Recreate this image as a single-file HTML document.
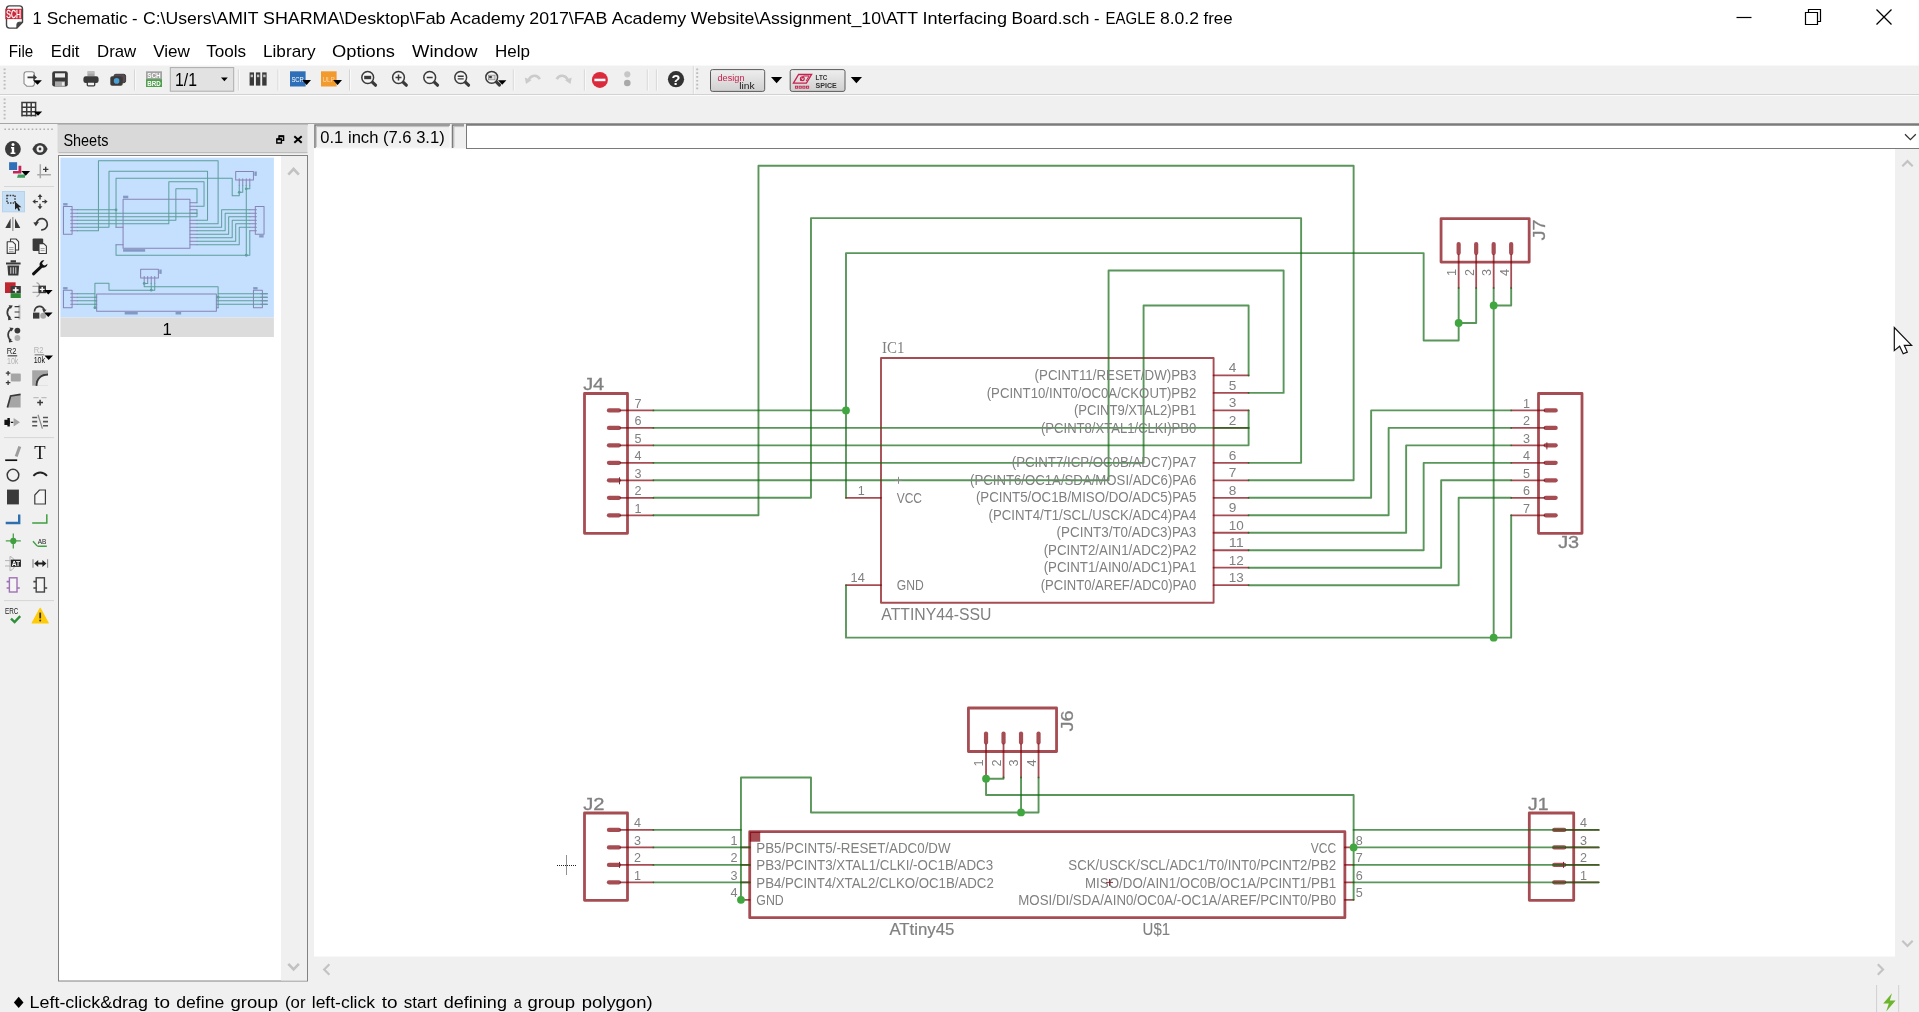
<!DOCTYPE html>
<html><head><meta charset="utf-8"><title>1 Schematic - EAGLE 8.0.2 free</title>
<style>
html,body{margin:0;padding:0;background:#f0f0f0;overflow:hidden}
svg{display:block;font-family:"Liberation Sans",sans-serif;will-change:transform}
text{font-family:"Liberation Sans",sans-serif}
</style></head><body>
<svg width="1919" height="1012" viewBox="0 0 1919 1012" shape-rendering="auto">
<rect x="0" y="0" width="1919" height="1012" fill="#f0f0f0"/>
<rect x="0" y="0" width="1919" height="65.5" fill="#fff"/>
<rect x="314" y="148.5" width="1581" height="808" fill="#fff"/>
<g><path d="M9.500 5.900h10a3 3 0 0 1 3 3v13.300l-5.600 5.900h-7.400a3 3 0 0 1-3-3v-16.200a3 3 0 0 1 3-3z" fill="#fff" stroke="#444" stroke-width="1.400"/><path d="M22.500 22.200h-3.400a2.200 2.200 0 0 0-2.200 2.200v3.700z" fill="#444" stroke="#444" stroke-width="1" stroke-linejoin="round"/><rect x="5.300" y="8.800" width="16.700" height="10.300" fill="#c9283b"/><text x="13.650" y="17.800" font-size="10.600" fill="#fff" text-anchor="middle" textLength="14.600" lengthAdjust="spacingAndGlyphs" stroke="#fff" stroke-width=".3">SCH</text></g>
<text x="32.5" y="24.3" font-size="16.6" fill="#000">1</text>
<text x="46.75" y="24.3" font-size="16.6" fill="#000" textLength="81.0" lengthAdjust="spacingAndGlyphs">Schematic</text>
<text x="132" y="24.3" font-size="16.6" fill="#000">-</text>
<text x="143" y="24.3" font-size="16.6" fill="#000" textLength="115.5" lengthAdjust="spacingAndGlyphs">C:\Users\AMIT</text>
<text x="263" y="24.3" font-size="16.6" fill="#000" textLength="182.5" lengthAdjust="spacingAndGlyphs">SHARMA\Desktop\Fab</text>
<text x="450" y="24.3" font-size="16.6" fill="#000" textLength="74.7" lengthAdjust="spacingAndGlyphs">Academy</text>
<text x="529.25" y="24.3" font-size="16.6" fill="#000" textLength="78.0" lengthAdjust="spacingAndGlyphs">2017\FAB</text>
<text x="611.75" y="24.3" font-size="16.6" fill="#000" textLength="74.5" lengthAdjust="spacingAndGlyphs">Academy</text>
<text x="690.75" y="24.3" font-size="16.6" fill="#000" textLength="227.2" lengthAdjust="spacingAndGlyphs">Website\Assignment_10\ATT</text>
<text x="922.5" y="24.3" font-size="16.6" fill="#000" textLength="84.5" lengthAdjust="spacingAndGlyphs">Interfacing</text>
<text x="1011.5" y="24.3" font-size="16.6" fill="#000" textLength="78.0" lengthAdjust="spacingAndGlyphs">Board.sch</text>
<text x="1094" y="24.3" font-size="16.6" fill="#000">-</text>
<text x="1105.5" y="24.3" font-size="16.6" fill="#000" textLength="50.0" lengthAdjust="spacingAndGlyphs">EAGLE</text>
<text x="1160" y="24.3" font-size="16.6" fill="#000" textLength="39" lengthAdjust="spacingAndGlyphs">8.0.2</text>
<text x="1203.5" y="24.3" font-size="16.6" fill="#000" textLength="29.0" lengthAdjust="spacingAndGlyphs">free</text>
<path d="M1736.5 17.5h15" stroke="#000" stroke-width="1.2" fill="none"/>
<path d="M1805.5 12.5h12v12h-12zM1808.5 12.5v-3h12v12h-3" stroke="#000" stroke-width="1.2" fill="none"/>
<path d="M1876.5 9.5l15 15M1891.5 9.5l-15 15" stroke="#000" stroke-width="1.3" fill="none"/>
<text x="8.8" y="57.0" font-size="16.6" fill="#000" textLength="24.4" lengthAdjust="spacingAndGlyphs">File</text>
<text x="50.8" y="57.0" font-size="16.6" fill="#000" textLength="28.7" lengthAdjust="spacingAndGlyphs">Edit</text>
<text x="97" y="57.0" font-size="16.6" fill="#000" textLength="39.2" lengthAdjust="spacingAndGlyphs">Draw</text>
<text x="153.2" y="57.0" font-size="16.6" fill="#000" textLength="36.8" lengthAdjust="spacingAndGlyphs">View</text>
<text x="206.2" y="57.0" font-size="16.6" fill="#000" textLength="40.0" lengthAdjust="spacingAndGlyphs">Tools</text>
<text x="263" y="57.0" font-size="16.6" fill="#000" textLength="52.5" lengthAdjust="spacingAndGlyphs">Library</text>
<text x="332" y="57.0" font-size="16.6" fill="#000" textLength="63" lengthAdjust="spacingAndGlyphs">Options</text>
<text x="412" y="57.0" font-size="16.6" fill="#000" textLength="65.5" lengthAdjust="spacingAndGlyphs">Window</text>
<text x="495" y="57.0" font-size="16.6" fill="#000" textLength="35" lengthAdjust="spacingAndGlyphs">Help</text>
<path d="M0 94.5H1919" stroke="#d2d2d2" stroke-width="1"/>
<path d="M0 95.5H1919" stroke="#fbfbfb" stroke-width="1"/>
<path d="M0 123.5H1919" stroke="#a6a6a6" stroke-width="1"/>
<path d="M57.5 124.800H308" stroke="#a4a4a4" stroke-width="1"/>
<path d="M4.6 68.5V91" stroke="#bcbcbc" stroke-width="2" stroke-dasharray="1.700 2.100"/>
<path d="M4.6 98.5V121" stroke="#bcbcbc" stroke-width="2" stroke-dasharray="1.700 2.100"/>
<path d="M26.400 71.800h5.600a2.400 2.400 0 0 1 2.400 2.400v9.600a2.400 2.400 0 0 1-2.400 2.400h-5.200l-2.800-2.600v-9.400a2.400 2.400 0 0 1 2.400-2.400z" fill="#fafafa" stroke="#8a8a8a" stroke-width="1.100"/>
<path d="M27.500 76.500h5.800v-2.200l3.700 3.100l-3.700 3.100v-2.200h-5.800z" fill="#3a3a3a"/>
<path d="M33.1 80.2H41.9L37.5 84.8Z" fill="#000"/>
<rect x="52.200" y="71.300" width="15.600" height="15.200" rx="2.200" fill="#3a3a3a"/>
<rect x="55" y="73.300" width="10" height="4.200" fill="#ececec"/>
<rect x="55" y="81.400" width="10" height="5.100" fill="#a9a9a9"/>
<rect x="61.900" y="82.200" width="2.400" height="3.400" fill="#ececec"/>
<rect x="87.400" y="71.300" width="7.200" height="5" fill="#a6a6a6"/>
<path d="M87.400 72.900h7.200" stroke="#d0d0d0" stroke-width=".8"/>
<rect x="83.400" y="76.300" width="15.200" height="6.800" rx="2.400" fill="#3a3a3a"/>
<rect x="87.300" y="82" width="7.400" height="3.800" rx=".8" fill="#f4f4f4" stroke="#3a3a3a" stroke-width="1.300"/>
<rect x="114" y="74.300" width="11.600" height="8.400" rx="1.800" fill="#5a4a50" stroke="#3a3a3a" stroke-width="1"/>
<rect x="110.300" y="76.200" width="12.400" height="9.600" rx="1.800" fill="#3a3a3a"/>
<circle cx="116.600" cy="80.900" r="2.800" fill="#4a9fd6"/>
<path d="M134.6 69.5V90.5" stroke="#d4d4d4" stroke-width="1"/><path d="M135.6 69.5V90.5" stroke="#fafafa" stroke-width="1"/>
<rect x="146" y="71.3" width="16" height="7.8" fill="#a3a3a3"/>
<rect x="146" y="79.1" width="16" height="7.9" fill="#4f9f4f"/>
<text x="154" y="78" font-size="7.6" font-weight="bold" fill="#fff" text-anchor="middle" textLength="13.4" lengthAdjust="spacingAndGlyphs">SCH</text>
<text x="154" y="85.9" font-size="7.6" font-weight="bold" fill="#fff" text-anchor="middle" textLength="13.4" lengthAdjust="spacingAndGlyphs">BRD</text>
<rect x="170.3" y="67.6" width="63.4" height="23.6" fill="#e2e2e2" stroke="#adadad" stroke-width="1"/>
<text x="175" y="85.8" font-size="18" fill="#000" textLength="22" lengthAdjust="spacingAndGlyphs">1/1</text>
<path d="M221 77.6H227.8L224.4 81.2Z" fill="#000"/>
<path d="M238.4 69.5V90.5" stroke="#d4d4d4" stroke-width="1"/><path d="M239.4 69.5V90.5" stroke="#fafafa" stroke-width="1"/>
<rect x="249.6" y="72.4" width="4.4" height="13.2" fill="#3a3a3a"/>
<rect x="250.6" y="74.6" width="2.4" height="2.6" fill="#bdbdbd"/>
<rect x="255.9" y="72.4" width="4.4" height="13.2" fill="#3a3a3a"/>
<rect x="256.9" y="74.6" width="2.4" height="2.6" fill="#bdbdbd"/>
<rect x="262.2" y="72.4" width="4.4" height="13.2" fill="#3a3a3a"/>
<rect x="263.2" y="74.6" width="2.4" height="2.6" fill="#bdbdbd"/>
<path d="M278 69.5V90.5" stroke="#d4d4d4" stroke-width="1"/><path d="M279 69.5V90.5" stroke="#fafafa" stroke-width="1"/>
<rect x="290" y="71.3" width="15.6" height="15.2" fill="#2e6fb8"/>
<text x="297.6" y="82" font-size="7.6" fill="#fff" text-anchor="middle" textLength="12.4" lengthAdjust="spacingAndGlyphs">SCR</text>
<path d="M302.2 80H311L306.6 85Z" fill="#000"/>
<rect x="321" y="71.3" width="15.6" height="15.2" fill="#f29a2e"/>
<text x="328.6" y="82" font-size="7.6" fill="#fbd9a8" text-anchor="middle" textLength="12.4" lengthAdjust="spacingAndGlyphs">ULP</text>
<path d="M333.2 80H342L337.6 85Z" fill="#000"/>
<path d="M349.5 69.5V90.5" stroke="#d4d4d4" stroke-width="1"/><path d="M350.5 69.5V90.5" stroke="#fafafa" stroke-width="1"/>
<path d="M372.3 82.1L375.5 85.2" stroke="#3a3a3a" stroke-width="3.2" stroke-linecap="round"/><circle cx="367.7" cy="77.5" r="5.9" fill="#f6f6f6" stroke="#3a3a3a" stroke-width="1.5"/>
<rect x="364.2" y="75.8" width="7" height="3.4" fill="#3a3a3a"/>
<path d="M403.1 82.1L406.3 85.2" stroke="#3a3a3a" stroke-width="3.2" stroke-linecap="round"/><circle cx="398.5" cy="77.5" r="5.9" fill="#f6f6f6" stroke="#3a3a3a" stroke-width="1.5"/>
<path d="M395.5 77.5h6M398.5 74.5v6" stroke="#3a3a3a" stroke-width="1.5"/>
<path d="M434.3 82.1L437.5 85.2" stroke="#3a3a3a" stroke-width="3.2" stroke-linecap="round"/><circle cx="429.7" cy="77.5" r="5.9" fill="#f6f6f6" stroke="#3a3a3a" stroke-width="1.5"/>
<path d="M426.7 77.5h6" stroke="#3a3a3a" stroke-width="1.5"/>
<path d="M465.3 82.1L468.5 85.2" stroke="#3a3a3a" stroke-width="3.2" stroke-linecap="round"/><circle cx="460.7" cy="77.5" r="5.9" fill="#f6f6f6" stroke="#3a3a3a" stroke-width="1.5"/>
<path d="M457.7 76.2h6M457.7 78.9h6" stroke="#3a3a3a" stroke-width="1.4"/>
<path d="M496.3 81.89999999999999L499.5 85.0" stroke="#3a3a3a" stroke-width="3.2" stroke-linecap="round"/><circle cx="491.7" cy="77.3" r="5.9" fill="#f6f6f6" stroke="#3a3a3a" stroke-width="1.5"/>
<rect x="488.4" y="75.2" width="6.6" height="4.6" fill="#dcdcdc" stroke="#8a8a8a" stroke-width=".8"/>
<rect x="489.2" y="76" width="2.6" height="2.2" fill="#3a3a3a"/>
<path d="M498 80.2H506.4L502.2 84.8Z" fill="#000"/>
<path d="M513.3 69.5V90.5" stroke="#d4d4d4" stroke-width="1"/><path d="M514.3 69.5V90.5" stroke="#fafafa" stroke-width="1"/>
<path d="M528.800 79.600C531 75.400 536.800 73.800 539.800 79.200" fill="none" stroke="#cbcbcb" stroke-width="2.600"/>
<path d="M524.800 77.600l6.600 2.600l-5.400 3.800z" fill="#cbcbcb"/>
<path d="M567.700 79.600C565.500 75.400 559.700 73.800 556.700 79.200" fill="none" stroke="#cbcbcb" stroke-width="2.600"/>
<path d="M571.700 77.600l-6.600 2.600l5.400 3.800z" fill="#cbcbcb"/>
<path d="M584.4 69.5V90.5" stroke="#d4d4d4" stroke-width="1"/><path d="M585.4 69.5V90.5" stroke="#fafafa" stroke-width="1"/>
<circle cx="599.900" cy="79.900" r="8" fill="#dc2a3d"/>
<rect x="594.400" y="78.700" width="11" height="2.500" fill="#fff"/>
<circle cx="627.3" cy="74.3" r="3.1" fill="#c6c6c6"/>
<circle cx="627.3" cy="83" r="3.3" fill="#a9a9a9"/>
<path d="M647.3 69.5V90.5" stroke="#d4d4d4" stroke-width="1"/><path d="M648.3 69.5V90.5" stroke="#fafafa" stroke-width="1"/>
<path d="M656.4 69.5V90.5" stroke="#d4d4d4" stroke-width="1"/><path d="M657.4 69.5V90.5" stroke="#fafafa" stroke-width="1"/>
<circle cx="676" cy="79.2" r="8.1" fill="#333"/>
<text x="676" y="84.6" font-size="14.5" font-weight="bold" fill="#fff" text-anchor="middle">?</text>
<path d="M693.3 66V94" stroke="#d4d4d4" stroke-width="1"/><path d="M694.3 66V94" stroke="#fafafa" stroke-width="1"/>
<path d="M697.2 68.5V91" stroke="#bcbcbc" stroke-width="2" stroke-dasharray="1.700 2.100"/>
<defs><linearGradient id="bg1" x1="0" y1="0" x2="0" y2="1"><stop offset="0" stop-color="#efefef"/><stop offset="1" stop-color="#cfcfcf"/></linearGradient></defs>
<rect x="710.5" y="69.6" width="54.2" height="21.8" rx="2" fill="url(#bg1)" stroke="#5a5a5a" stroke-width="1"/>
<text x="717.5" y="80.5" font-size="9.6" fill="#c8214e" textLength="27" lengthAdjust="spacingAndGlyphs">design</text>
<text x="739.3" y="88.6" font-size="9.6" fill="#1a1a1a" textLength="15.4" lengthAdjust="spacingAndGlyphs">link</text>
<path d="M771 77H782.2L776.6 83.2Z" fill="#000"/>
<rect x="790.2" y="69.6" width="54.8" height="21.8" rx="2" fill="url(#bg1)" stroke="#5a5a5a" stroke-width="1"/>
<path d="M798.6 74.5h13l-5.2 8.6h-13z" fill="none" stroke="#c8214e" stroke-width="1.3"/>
<path d="M800.5 81l3-5h5.6l-3 5" fill="none" stroke="#c8214e" stroke-width="1"/>
<circle cx="802.3" cy="78.8" r="1.9" fill="none" stroke="#c8214e" stroke-width="1.2"/>
<rect x="795.4" y="86.2" width="2.2" height="2" fill="none" stroke="#c8214e" stroke-width=".9"/>
<rect x="799.1" y="86.2" width="2.2" height="2" fill="none" stroke="#c8214e" stroke-width=".9"/>
<rect x="802.8" y="86.2" width="2.2" height="2" fill="none" stroke="#c8214e" stroke-width=".9"/>
<rect x="806.5" y="86.2" width="2.2" height="2" fill="none" stroke="#c8214e" stroke-width=".9"/>
<text x="815.6" y="80.4" font-size="6.6" font-weight="bold" fill="#333" textLength="11.6" lengthAdjust="spacingAndGlyphs">LTC</text>
<text x="815.6" y="87.8" font-size="6.6" font-weight="bold" fill="#333" textLength="21.2" lengthAdjust="spacingAndGlyphs">SPICE</text>
<path d="M850.8 77H862L856.4 83.2Z" fill="#000"/>
<rect x="21.2" y="101.8" width="15" height="14.4" fill="#f6f6f6"/>
<path d="M21.2 102.6h15.2M21.2 107.3h15.2M21.2 111.7h15.2M21.2 115.6h15.2M22 101.8v14.6M26.7 101.8v14.6M31.2 101.8v14.6M35.6 101.8v14.6" stroke="#3a3a3a" stroke-width="1.5" fill="none"/>
<path d="M33.8 111.6H42.2L38.0 115.8Z" fill="#000"/>
<path d="M4.400 129.300H54" stroke="#b0b0b0" stroke-width="1.600" stroke-dasharray="1.600 2.300"/>
<circle cx="12.900" cy="149" r="7.900" fill="#3a3a3a"/>
<circle cx="13" cy="144.4" r="1.5" fill="#fff"/>
<path d="M11 147h3.2v5.6h1.2v1.4h-4.8v-1.4h1.2v-4.2h-.8z" fill="#fff"/>
<path d="M32.400 149c3-8 12.200-8 15.200 0c-3 8-12.200 8-15.200 0z" fill="#3a3a3a"/>
<circle cx="40" cy="149" r="3.500" fill="#f0f0f0"/>
<circle cx="40" cy="149" r="1.4" fill="#3a3a3a"/>
<rect x="9.1" y="162.2" width="8" height="7.8" fill="#2e6fb8"/>
<path d="M18.500 165.8h2.8v7.8h-8.300v-2.600h5.500z" fill="#c4245a"/>
<path d="M18 174.600h7v3.200h-8z" fill="#3d9e5c"/>
<path d="M21.3 171H30.1L25.700000000000003 175.8Z" fill="#000"/>
<path d="M40.300 164.300V178.300M37.200 174.800H50.900" stroke="#a9a9a9" stroke-width="1.5" fill="none"/>
<path d="M43 169.400h5.400M45.700 166.700v5.400" stroke="#3a3a3a" stroke-width="1.4" fill="none"/>
<path d="M4 186.500H54" stroke="#d6d6d6" stroke-width="1"/>
<rect x="2.500" y="191.500" width="22" height="20.300" fill="#c6dff5" stroke="#b4d4ee" stroke-width="1"/>
<rect x="7" y="195.500" width="8" height="7.400" fill="none" stroke="#3a3a3a" stroke-width="1.500" stroke-dasharray="1.500 1.200"/>
<path d="M15 201.400v8.300l2.100-1.900l1.500 3.200l1.500-.7l-1.500-3.100h2.800z" fill="#222"/>
<path d="M40 194l2.400 3h-1.700v2.500h-1.400v-2.500h-1.700zM40 209.200l2.400-3h-1.700v-2.500h-1.400v2.500h-1.700zM32.400 201.600l3-2.400v1.700h2.500v1.400h-2.500v1.700zM47.600 201.600l-3-2.400v1.700h-2.500v1.400h2.500v1.700z" fill="#3a3a3a"/>
<path d="M12.800 217V231" stroke="#a0a0a0" stroke-width="1.400"/>
<path d="M10.600 218.500v9.600h-5.300zM15 218.500v9.600h5.300z" fill="#3a3a3a"/>
<path d="M36.200 223.500a5.600 5.600 0 1 1 5 6.300" fill="none" stroke="#3a3a3a" stroke-width="1.700"/>
<path d="M33.300 222.400l5.800-.6l-3.200 4.400z" fill="#3a3a3a"/>
<path d="M10.500 239h5.500l2.600 2.600v8.400h-8.100z" fill="#f6f6f6" stroke="#3a3a3a" stroke-width="1.100" stroke-linejoin="round"/>
<path d="M7.200 241.800h5.600l2.600 2.600v9h-8.200z" fill="#f6f6f6" stroke="#3a3a3a" stroke-width="1.100" stroke-linejoin="round"/>
<path d="M9 247.600h4.600M9 249.600h4.600M9 251.600h4.600" stroke="#8a8a8a" stroke-width=".8"/>
<rect x="32.600" y="238.400" width="10.600" height="12.600" rx="1.200" fill="#3a3a3a"/>
<path d="M39 243.600h4.800l2.600 2.600v7.300h-7.400z" fill="#f6f6f6" stroke="#3a3a3a" stroke-width="1.100" stroke-linejoin="round"/>
<path d="M40.600 248.600h4M40.600 250.600h4" stroke="#8a8a8a" stroke-width=".8"/>
<path d="M6 262.600h14.600v2h-14.600zM10.600 260.300h5.400v2h-5.400zM7.400 265.600h11.800l-.8 10h-10.200z" fill="#3a3a3a"/>
<path d="M10.800 267.300v6.400M13.300 267.300v6.400M15.800 267.300v6.400" stroke="#ededed" stroke-width=".900"/>
<path d="M33.500 273.800L42 265.800" stroke="#111" stroke-width="3" stroke-linecap="round"/>
<path d="M47.600 263.800a4.300 4.300 0 0 1-6.600 3.300l-1.400-1.600a4.300 4.300 0 0 1 4.800-5.200l-2.300 2.600l.6 2.200l2.300.5z" fill="#111"/>
<rect x="5" y="282.300" width="10.600" height="10.700" fill="#c0262f"/>
<rect x="10.600" y="286" width="10.200" height="7.200" fill="#3a3a3a"/>
<rect x="10.600" y="293.200" width="10.200" height="4.800" fill="#2f8a36"/>
<path d="M12.800 290h5.800M15.700 287.200v5.600" stroke="#fff" stroke-width="1.600"/>
<path d="M32.500 286.400h6M32.500 292.400h6M36.500 282.600c5 1.200 5 12.600 0 14" stroke="#a9a9a9" stroke-width="1.100" fill="none"/>
<rect x="38.400" y="285.600" width="7.600" height="7.600" fill="#3a3a3a"/>
<path d="M39.800 289.400h4.800M42.200 287v4.800" stroke="#fff" stroke-width="1.400"/>
<path d="M44 290H52.6L48.3 294.4Z" fill="#000"/>
<path d="M10.800 306.600c-4.600 2.600-4.600 8.600-.4 11.400" fill="none" stroke="#3a3a3a" stroke-width="1.700"/>
<path d="M8.600 305.200l4.200.4l-2 3.400zM8 316.600l4.200 2.800l-4 .8z" fill="#3a3a3a"/>
<path d="M19.400 304.800v14.600" stroke="#b4b4b4" stroke-width="2"/>
<path d="M14.600 306.600h4.800M14.600 312h4.800M14.600 317.400h4.800" stroke="#3a3a3a" stroke-width="1.200"/>
<path d="M34.500 311.600a5 5 0 0 1 10-.6" fill="none" stroke="#3a3a3a" stroke-width="1.700"/>
<path d="M42.200 309l4.400.8l-2.800 3z" fill="#3a3a3a"/>
<rect x="33" y="312.600" width="6.400" height="6" fill="#3a3a3a"/>
<circle cx="43.200" cy="315.800" r="3" fill="#a6a6a6"/>
<path d="M44 312.6H52.6L48.3 317Z" fill="#000"/>
<path d="M11.600 329c-4.600 2.600-4.600 8.600-.4 11.400" fill="none" stroke="#3a3a3a" stroke-width="1.700"/>
<path d="M9.400 327.600l4.200.4l-2 3.400zM8.800 339l4.200 2.800l-4 .8z" fill="#3a3a3a"/>
<circle cx="17.400" cy="330.600" r="2.900" fill="#3a3a3a"/>
<circle cx="17.400" cy="338" r="2.900" fill="#b0b0b0"/>
<text x="6.700" y="353.700" font-size="9.400" fill="#222" textLength="9.800" lengthAdjust="spacingAndGlyphs">R2</text>
<path d="M7.600 355.800h9.600" stroke="#555" stroke-width="1.300"/>
<text x="7" y="363.900" font-size="9.400" fill="#b4b4b4" textLength="11.400" lengthAdjust="spacingAndGlyphs">10k</text>
<text x="33.700" y="352.800" font-size="9.400" fill="#b4b4b4" textLength="9.800" lengthAdjust="spacingAndGlyphs">R2</text>
<path d="M34.600 354.800h9.600" stroke="#8a8a8a" stroke-width="1.300"/>
<text x="33.700" y="362.800" font-size="9.400" fill="#111" textLength="11.400" lengthAdjust="spacingAndGlyphs">10k</text>
<path d="M44.4 355.4H53L48.7 360Z" fill="#000"/>
<rect x="10.800" y="373.600" width="10" height="8" rx="1" fill="#a6a6a6"/>
<path d="M5.800 373.200h4.600M8.100 371v4.600M5.800 382.600h4.600M8.100 380.400v4.600" stroke="#3a3a3a" stroke-width="1.300"/>
<rect x="32.200" y="370.300" width="15.800" height="15.400" fill="#a6a6a6"/>
<path d="M36.600 385.700c0-6.600 4.400-11 11.400-11" fill="#efefef" stroke="#3a3a3a" stroke-width="1.700"/>
<path d="M36.600 385.700c0-6.600 4.400-11 11.400-11v11z" fill="#efefef"/>
<path d="M36.600 385.700c0-6.600 4.400-11 11.400-11" fill="none" stroke="#3a3a3a" stroke-width="1.700"/>
<path d="M7.400 407.500l3.200-11.500l10-1.600v13.100z" fill="#a6a6a6"/>
<path d="M7.400 407.500l3.200-11.500l10-1.600" fill="none" stroke="#3a3a3a" stroke-width="1.700"/>
<path d="M33.400 397.600h5.200M41.400 397.600h5.200" stroke="#bdbdbd" stroke-width="1.200"/>
<path d="M37.200 402.600h5.800M40.100 399.800v5.600" stroke="#3a3a3a" stroke-width="1.500"/>
<path d="M5 420.300h3v-1.700h1.200v1.700h0a3.800 3.800 0 0 1 0 4h0v1.700h-1.200v-1.700h-3zM11 422.300h2.400" fill="#111" stroke="#111" stroke-width="1.200"/>
<path d="M13.600 418l6.400 4.300l-6.400 4.300z" fill="#a6a6a6"/>
<path d="M32.200 417.500h5M32.200 421.600h5M32.200 425.800h5M43 417.500h5M43 421.600h5M43 425.800h5" stroke="#555" stroke-width="1.600"/>
<path d="M38 414.800l4.400 13.800" stroke="#8a8a8a" stroke-width="1.200"/>
<path d="M4 437.600H54" stroke="#d6d6d6" stroke-width="1"/>
<path d="M5.200 460.200h12" stroke="#111" stroke-width="1.700"/>
<path d="M16.200 456.400l3.600-10" stroke="#9c9c9c" stroke-width="3"/>
<text x="40" y="459" font-size="18.6" font-family="Liberation Serif" fill="#111" text-anchor="middle" style="font-family:'Liberation Serif',serif">T</text>
<circle cx="13" cy="475.100" r="5.800" fill="none" stroke="#3a3a3a" stroke-width="1.500"/>
<path d="M33.400 475.800c4-4.400 9.600-4.400 13.600 0" fill="none" stroke="#222" stroke-width="1.800"/>
<rect x="7" y="489.600" width="11.900" height="14.800" fill="#3a3a3a"/>
<path d="M34.800 504v-9l4.600-5h6v14z" fill="#f6f6f6" stroke="#3a3a3a" stroke-width="1.200"/>
<path d="M5.700 523H19.200V514.600" fill="none" stroke="#2e6fb0" stroke-width="2.400"/>
<path d="M32.200 523H46.800V514.200" fill="none" stroke="#3f9f3f" stroke-width="1.500"/>
<path d="M5.800 540.900h15M13.300 533.400v15" stroke="#4a9f4a" stroke-width="1.300"/>
<circle cx="13.300" cy="540.900" r="3.100" fill="#3f9f3f"/>
<path d="M33 541.200l3.600 4.200q.6.800 2 .8h8.200" fill="none" stroke="#3f9f3f" stroke-width="1.400"/>
<text x="37.800" y="543.800" font-size="7.800" fill="#222" textLength="8.600" lengthAdjust="spacingAndGlyphs">AB</text>
<path d="M5 560.600h6M5 566h6M10 556.400c6.600 2 6.600 12.400 0 14.400z" fill="none" stroke="#b4b4b4" stroke-width="1"/>
<rect x="10.900" y="559.600" width="10" height="7.200" fill="#222"/>
<text x="15.900" y="566" font-size="7.600" font-weight="bold" fill="#fff" text-anchor="middle" textLength="8.400" lengthAdjust="spacingAndGlyphs">AT</text>
<path d="M33 559.300v8.400M47.600 559.300v8.400" stroke="#8a8a8a" stroke-width="1.100"/>
<path d="M36.400 563.500h8" stroke="#222" stroke-width="2"/>
<path d="M34.200 563.500l4-3.400v6.800zM46.400 563.500l-4-3.400v6.800z" fill="#222"/>
<rect x="9.400" y="577.800" width="7.600" height="14.200" fill="#f4f4f4" stroke="#a070b4" stroke-width="1.400"/>
<path d="M6.600 581.600h2.800M6.600 588h2.800M17 588h2.800" stroke="#a070b4" stroke-width="1.600"/>
<rect x="36.200" y="577.800" width="8.200" height="14.200" fill="#f4f4f4" stroke="#444" stroke-width="1.400"/>
<path d="M33.400 581.600h2.800M33.400 588h2.800M44.400 588h2.800" stroke="#444" stroke-width="1.600"/>
<path d="M4 600.600H54" stroke="#d6d6d6" stroke-width="1"/>
<text x="5" y="614.400" font-size="8.200" fill="#222" textLength="13.400" lengthAdjust="spacingAndGlyphs">ERC</text>
<path d="M11 618.600l3.600 3.400l5.600-5.800" fill="none" stroke="#2f8f3a" stroke-width="2.400"/>
<path d="M40.200 608.400l8 14.600h-16z" fill="#ffcb05" stroke="#ffcb05" stroke-width="1.200" stroke-linejoin="round"/>
<path d="M40.200 612.600v5.800" stroke="#333" stroke-width="1.800"/>
<circle cx="40.200" cy="620.600" r="1" fill="#333"/>
<rect x="57.5" y="125.2" width="250" height="27.3" fill="#d9d9d9"/>
<path d="M58.5 152.7H307.5" stroke="#b4b4b4" stroke-width="1"/>
<text x="63.4" y="145.5" font-size="16.2" fill="#000" textLength="45" lengthAdjust="spacingAndGlyphs">Sheets</text>
<path d="M276.800 139h4.600v4h-4.600zM279 138.400v-2.400h4.600v4.400h-1.800" stroke="#000" stroke-width="1.400" fill="none"/>
<path d="M276.800 139.300h4.600M279 136.300h4.600" stroke="#000" stroke-width="1.800" fill="none"/>
<path d="M294.300 136.300l7.400 6.400M301.700 136.300l-7.400 6.400" stroke="#000" stroke-width="2" fill="none"/>
<rect x="58.5" y="155.5" width="249" height="825.5" fill="#fff" stroke="#828282" stroke-width="1"/>
<rect x="281" y="156" width="26" height="824.5" fill="#f0f0f0"/>
<path d="M288.300 174.600l5.300-5.600l5.300 5.600" stroke="#c2c2c2" stroke-width="2.600" fill="none"/>
<path d="M288.300 963.800l5.300 5.600l5.300-5.600" stroke="#c2c2c2" stroke-width="2.600" fill="none"/>
<rect x="60.4" y="157.6" width="213.5" height="159.8" fill="#c5e0ff"/>
<rect x="60.4" y="317.4" width="213.5" height="19.6" fill="#dcdcdc"/>
<text x="167" y="335.4" font-size="16.6" fill="#000" text-anchor="middle">1</text>
<g transform="translate(-54.1 127.7) scale(0.2011 0.2)" opacity="0.9">
<rect x="881.0" y="357.96" width="332.6" height="244.72" fill="none" stroke="#8079ad" stroke-opacity="1" stroke-width="5.0" stroke-linejoin="round"/>
<polyline points="1213.6,375.44 1248.61,375.44" fill="none" stroke="#8079ad" stroke-opacity="1" stroke-width="5.0" stroke-linejoin="round" stroke-linecap="round"/>
<polyline points="1213.6,392.92 1248.61,392.92" fill="none" stroke="#8079ad" stroke-opacity="1" stroke-width="5.0" stroke-linejoin="round" stroke-linecap="round"/>
<polyline points="1213.6,410.4 1248.61,410.4" fill="none" stroke="#8079ad" stroke-opacity="1" stroke-width="5.0" stroke-linejoin="round" stroke-linecap="round"/>
<polyline points="1213.6,427.88 1248.61,427.88" fill="none" stroke="#8079ad" stroke-opacity="1" stroke-width="5.0" stroke-linejoin="round" stroke-linecap="round"/>
<polyline points="1213.6,462.84 1248.61,462.84" fill="none" stroke="#8079ad" stroke-opacity="1" stroke-width="5.0" stroke-linejoin="round" stroke-linecap="round"/>
<polyline points="1213.6,480.32 1248.61,480.32" fill="none" stroke="#8079ad" stroke-opacity="1" stroke-width="5.0" stroke-linejoin="round" stroke-linecap="round"/>
<polyline points="1213.6,497.8 1248.61,497.8" fill="none" stroke="#8079ad" stroke-opacity="1" stroke-width="5.0" stroke-linejoin="round" stroke-linecap="round"/>
<polyline points="1213.6,515.28 1248.61,515.28" fill="none" stroke="#8079ad" stroke-opacity="1" stroke-width="5.0" stroke-linejoin="round" stroke-linecap="round"/>
<polyline points="1213.6,532.76 1248.61,532.76" fill="none" stroke="#8079ad" stroke-opacity="1" stroke-width="5.0" stroke-linejoin="round" stroke-linecap="round"/>
<polyline points="1213.6,550.24 1248.61,550.24" fill="none" stroke="#8079ad" stroke-opacity="1" stroke-width="5.0" stroke-linejoin="round" stroke-linecap="round"/>
<polyline points="1213.6,567.72 1248.61,567.72" fill="none" stroke="#8079ad" stroke-opacity="1" stroke-width="5.0" stroke-linejoin="round" stroke-linecap="round"/>
<polyline points="1213.6,585.2 1248.61,585.2" fill="none" stroke="#8079ad" stroke-opacity="1" stroke-width="5.0" stroke-linejoin="round" stroke-linecap="round"/>
<polyline points="845.99,497.8 881.0,497.8" fill="none" stroke="#8079ad" stroke-opacity="1" stroke-width="5.0" stroke-linejoin="round" stroke-linecap="round"/>
<polyline points="845.99,585.2 881.0,585.2" fill="none" stroke="#8079ad" stroke-opacity="1" stroke-width="5.0" stroke-linejoin="round" stroke-linecap="round"/>
<rect x="584.5" y="393.5" width="43.0" height="139.78" fill="none" stroke="#8079ad" stroke-opacity="1" stroke-width="5.0" stroke-linejoin="round"/>
<polyline points="653.43,410.4 620.43,410.4" fill="none" stroke="#8079ad" stroke-opacity="1" stroke-width="5.0" stroke-linejoin="round" stroke-linecap="round"/>
<polyline points="653.43,427.88 620.43,427.88" fill="none" stroke="#8079ad" stroke-opacity="1" stroke-width="5.0" stroke-linejoin="round" stroke-linecap="round"/>
<polyline points="653.43,445.36 620.43,445.36" fill="none" stroke="#8079ad" stroke-opacity="1" stroke-width="5.0" stroke-linejoin="round" stroke-linecap="round"/>
<polyline points="653.43,462.84 620.43,462.84" fill="none" stroke="#8079ad" stroke-opacity="1" stroke-width="5.0" stroke-linejoin="round" stroke-linecap="round"/>
<polyline points="653.43,480.32 620.43,480.32" fill="none" stroke="#8079ad" stroke-opacity="1" stroke-width="5.0" stroke-linejoin="round" stroke-linecap="round"/>
<polyline points="653.43,497.8 620.43,497.8" fill="none" stroke="#8079ad" stroke-opacity="1" stroke-width="5.0" stroke-linejoin="round" stroke-linecap="round"/>
<polyline points="653.43,515.28 620.43,515.28" fill="none" stroke="#8079ad" stroke-opacity="1" stroke-width="5.0" stroke-linejoin="round" stroke-linecap="round"/>
<rect x="1538.5" y="393.5" width="43.5" height="139.78" fill="none" stroke="#8079ad" stroke-opacity="1" stroke-width="5.0" stroke-linejoin="round"/>
<polyline points="1511.18,410.4 1544.18,410.4" fill="none" stroke="#8079ad" stroke-opacity="1" stroke-width="5.0" stroke-linejoin="round" stroke-linecap="round"/>
<polyline points="1511.18,427.88 1544.18,427.88" fill="none" stroke="#8079ad" stroke-opacity="1" stroke-width="5.0" stroke-linejoin="round" stroke-linecap="round"/>
<polyline points="1511.18,445.36 1544.18,445.36" fill="none" stroke="#8079ad" stroke-opacity="1" stroke-width="5.0" stroke-linejoin="round" stroke-linecap="round"/>
<polyline points="1511.18,462.84 1544.18,462.84" fill="none" stroke="#8079ad" stroke-opacity="1" stroke-width="5.0" stroke-linejoin="round" stroke-linecap="round"/>
<polyline points="1511.18,480.32 1544.18,480.32" fill="none" stroke="#8079ad" stroke-opacity="1" stroke-width="5.0" stroke-linejoin="round" stroke-linecap="round"/>
<polyline points="1511.18,497.8 1544.18,497.8" fill="none" stroke="#8079ad" stroke-opacity="1" stroke-width="5.0" stroke-linejoin="round" stroke-linecap="round"/>
<polyline points="1511.18,515.28 1544.18,515.28" fill="none" stroke="#8079ad" stroke-opacity="1" stroke-width="5.0" stroke-linejoin="round" stroke-linecap="round"/>
<rect x="584.5" y="813.02" width="43.0" height="87.34" fill="none" stroke="#8079ad" stroke-opacity="1" stroke-width="5.0" stroke-linejoin="round"/>
<polyline points="653.43,829.92 620.43,829.92" fill="none" stroke="#8079ad" stroke-opacity="1" stroke-width="5.0" stroke-linejoin="round" stroke-linecap="round"/>
<polyline points="653.43,847.4 620.43,847.4" fill="none" stroke="#8079ad" stroke-opacity="1" stroke-width="5.0" stroke-linejoin="round" stroke-linecap="round"/>
<polyline points="653.43,864.88 620.43,864.88" fill="none" stroke="#8079ad" stroke-opacity="1" stroke-width="5.0" stroke-linejoin="round" stroke-linecap="round"/>
<polyline points="653.43,882.36 620.43,882.36" fill="none" stroke="#8079ad" stroke-opacity="1" stroke-width="5.0" stroke-linejoin="round" stroke-linecap="round"/>
<rect x="1529.3" y="813.02" width="44.4" height="87.34" fill="none" stroke="#8079ad" stroke-opacity="1" stroke-width="5.0" stroke-linejoin="round"/>
<polyline points="1598.7,829.92 1565.7,829.92" fill="none" stroke="#8079ad" stroke-opacity="1" stroke-width="5.0" stroke-linejoin="round" stroke-linecap="round"/>
<polyline points="1598.7,847.4 1565.7,847.4" fill="none" stroke="#8079ad" stroke-opacity="1" stroke-width="5.0" stroke-linejoin="round" stroke-linecap="round"/>
<polyline points="1598.7,864.88 1565.7,864.88" fill="none" stroke="#8079ad" stroke-opacity="1" stroke-width="5.0" stroke-linejoin="round" stroke-linecap="round"/>
<polyline points="1598.7,882.36 1565.7,882.36" fill="none" stroke="#8079ad" stroke-opacity="1" stroke-width="5.0" stroke-linejoin="round" stroke-linecap="round"/>
<rect x="1441.0600000000002" y="218.54000000000002" width="88.12" height="43.5" fill="none" stroke="#8079ad" stroke-opacity="1" stroke-width="5.0" stroke-linejoin="round"/>
<polyline points="1458.66,288.04 1458.66,255.04000000000002" fill="none" stroke="#8079ad" stroke-opacity="1" stroke-width="5.0" stroke-linejoin="round" stroke-linecap="round"/>
<polyline points="1476.17,288.04 1476.17,255.04000000000002" fill="none" stroke="#8079ad" stroke-opacity="1" stroke-width="5.0" stroke-linejoin="round" stroke-linecap="round"/>
<polyline points="1493.67,288.04 1493.67,255.04000000000002" fill="none" stroke="#8079ad" stroke-opacity="1" stroke-width="5.0" stroke-linejoin="round" stroke-linecap="round"/>
<polyline points="1511.18,288.04 1511.18,255.04000000000002" fill="none" stroke="#8079ad" stroke-opacity="1" stroke-width="5.0" stroke-linejoin="round" stroke-linecap="round"/>
<rect x="968.43" y="707.98" width="88.12" height="43.5" fill="none" stroke="#8079ad" stroke-opacity="1" stroke-width="5.0" stroke-linejoin="round"/>
<polyline points="986.03,777.48 986.03,744.48" fill="none" stroke="#8079ad" stroke-opacity="1" stroke-width="5.0" stroke-linejoin="round" stroke-linecap="round"/>
<polyline points="1003.53,777.48 1003.53,744.48" fill="none" stroke="#8079ad" stroke-opacity="1" stroke-width="5.0" stroke-linejoin="round" stroke-linecap="round"/>
<polyline points="1021.04,777.48 1021.04,744.48" fill="none" stroke="#8079ad" stroke-opacity="1" stroke-width="5.0" stroke-linejoin="round" stroke-linecap="round"/>
<polyline points="1038.55,777.48 1038.55,744.48" fill="none" stroke="#8079ad" stroke-opacity="1" stroke-width="5.0" stroke-linejoin="round" stroke-linecap="round"/>
<rect x="749.71" y="831.7199999999999" width="595.17" height="85.92" fill="none" stroke="#8079ad" stroke-opacity="1" stroke-width="5.0" stroke-linejoin="round"/>
<polyline points="740.96,847.4 749.71,847.4" fill="none" stroke="#8079ad" stroke-opacity="1" stroke-width="5.0" stroke-linejoin="round" stroke-linecap="round"/>
<polyline points="1344.88,847.4 1353.63,847.4" fill="none" stroke="#8079ad" stroke-opacity="1" stroke-width="5.0" stroke-linejoin="round" stroke-linecap="round"/>
<polyline points="740.96,864.88 749.71,864.88" fill="none" stroke="#8079ad" stroke-opacity="1" stroke-width="5.0" stroke-linejoin="round" stroke-linecap="round"/>
<polyline points="1344.88,864.88 1353.63,864.88" fill="none" stroke="#8079ad" stroke-opacity="1" stroke-width="5.0" stroke-linejoin="round" stroke-linecap="round"/>
<polyline points="740.96,882.36 749.71,882.36" fill="none" stroke="#8079ad" stroke-opacity="1" stroke-width="5.0" stroke-linejoin="round" stroke-linecap="round"/>
<polyline points="1344.88,882.36 1353.63,882.36" fill="none" stroke="#8079ad" stroke-opacity="1" stroke-width="5.0" stroke-linejoin="round" stroke-linecap="round"/>
<polyline points="740.96,899.84 749.71,899.84" fill="none" stroke="#8079ad" stroke-opacity="1" stroke-width="5.0" stroke-linejoin="round" stroke-linecap="round"/>
<polyline points="1344.88,899.84 1353.63,899.84" fill="none" stroke="#8079ad" stroke-opacity="1" stroke-width="5.0" stroke-linejoin="round" stroke-linecap="round"/>
<polyline points="653.43,410.4 845.99,410.4" fill="none" stroke="#52988f" stroke-opacity="1" stroke-width="5.0" stroke-linejoin="round" stroke-linecap="round"/>
<polyline points="845.99,497.8 845.99,253.08 1423.65,253.08 1423.65,340.48 1458.66,340.48 1458.66,288.04" fill="none" stroke="#52988f" stroke-opacity="1" stroke-width="5.0" stroke-linejoin="round" stroke-linecap="round"/>
<polyline points="1476.17,288.04 1476.17,323.0 1458.66,323.0" fill="none" stroke="#52988f" stroke-opacity="1" stroke-width="5.0" stroke-linejoin="round" stroke-linecap="round"/>
<polyline points="1511.18,288.04 1511.18,305.52 1493.67,305.52" fill="none" stroke="#52988f" stroke-opacity="1" stroke-width="5.0" stroke-linejoin="round" stroke-linecap="round"/>
<polyline points="1493.67,288.04 1493.67,637.64" fill="none" stroke="#52988f" stroke-opacity="1" stroke-width="5.0" stroke-linejoin="round" stroke-linecap="round"/>
<polyline points="845.99,585.2 845.99,637.64 1511.18,637.64 1511.18,515.28" fill="none" stroke="#52988f" stroke-opacity="1" stroke-width="5.0" stroke-linejoin="round" stroke-linecap="round"/>
<polyline points="653.43,427.88 1248.61,427.88" fill="none" stroke="#52988f" stroke-opacity="1" stroke-width="5.0" stroke-linejoin="round" stroke-linecap="round"/>
<polyline points="653.43,445.36 1248.61,445.36 1248.61,410.4" fill="none" stroke="#52988f" stroke-opacity="1" stroke-width="5.0" stroke-linejoin="round" stroke-linecap="round"/>
<polyline points="653.43,462.84 1143.58,462.84 1143.58,305.52 1248.61,305.52 1248.61,375.44" fill="none" stroke="#52988f" stroke-opacity="1" stroke-width="5.0" stroke-linejoin="round" stroke-linecap="round"/>
<polyline points="653.43,480.32 1108.57,480.32 1108.57,270.56 1283.62,270.56 1283.62,392.92 1248.61,392.92" fill="none" stroke="#52988f" stroke-opacity="1" stroke-width="5.0" stroke-linejoin="round" stroke-linecap="round"/>
<polyline points="653.43,497.8 810.98,497.8 810.98,218.12 1301.12,218.12 1301.12,462.84 1248.61,462.84" fill="none" stroke="#52988f" stroke-opacity="1" stroke-width="5.0" stroke-linejoin="round" stroke-linecap="round"/>
<polyline points="653.43,515.28 758.47,515.28 758.47,165.68 1353.63,165.68 1353.63,480.32 1248.61,480.32" fill="none" stroke="#52988f" stroke-opacity="1" stroke-width="5.0" stroke-linejoin="round" stroke-linecap="round"/>
<polyline points="1248.61,497.8 1371.14,497.8 1371.14,410.4 1511.18,410.4" fill="none" stroke="#52988f" stroke-opacity="1" stroke-width="5.0" stroke-linejoin="round" stroke-linecap="round"/>
<polyline points="1248.61,515.28 1388.64,515.28 1388.64,427.88 1511.18,427.88" fill="none" stroke="#52988f" stroke-opacity="1" stroke-width="5.0" stroke-linejoin="round" stroke-linecap="round"/>
<polyline points="1248.61,532.76 1406.15,532.76 1406.15,445.36 1511.18,445.36" fill="none" stroke="#52988f" stroke-opacity="1" stroke-width="5.0" stroke-linejoin="round" stroke-linecap="round"/>
<polyline points="1248.61,550.24 1423.65,550.24 1423.65,462.84 1511.18,462.84" fill="none" stroke="#52988f" stroke-opacity="1" stroke-width="5.0" stroke-linejoin="round" stroke-linecap="round"/>
<polyline points="1248.61,567.72 1441.16,567.72 1441.16,480.32 1511.18,480.32" fill="none" stroke="#52988f" stroke-opacity="1" stroke-width="5.0" stroke-linejoin="round" stroke-linecap="round"/>
<polyline points="1248.61,585.2 1458.66,585.2 1458.66,497.8 1511.18,497.8" fill="none" stroke="#52988f" stroke-opacity="1" stroke-width="5.0" stroke-linejoin="round" stroke-linecap="round"/>
<polyline points="653.43,829.92 740.96,829.92" fill="none" stroke="#52988f" stroke-opacity="1" stroke-width="5.0" stroke-linejoin="round" stroke-linecap="round"/>
<polyline points="653.43,847.4 749.71,847.4" fill="none" stroke="#52988f" stroke-opacity="1" stroke-width="5.0" stroke-linejoin="round" stroke-linecap="round"/>
<polyline points="653.43,864.88 749.71,864.88" fill="none" stroke="#52988f" stroke-opacity="1" stroke-width="5.0" stroke-linejoin="round" stroke-linecap="round"/>
<polyline points="653.43,882.36 749.71,882.36" fill="none" stroke="#52988f" stroke-opacity="1" stroke-width="5.0" stroke-linejoin="round" stroke-linecap="round"/>
<polyline points="740.96,899.84 740.96,777.48 810.98,777.48 810.98,812.44 1038.55,812.44 1038.55,777.48" fill="none" stroke="#52988f" stroke-opacity="1" stroke-width="5.0" stroke-linejoin="round" stroke-linecap="round"/>
<polyline points="1021.04,777.48 1021.04,812.44" fill="none" stroke="#52988f" stroke-opacity="1" stroke-width="5.0" stroke-linejoin="round" stroke-linecap="round"/>
<polyline points="986.03,777.48 986.03,794.96 1353.63,794.96 1353.63,899.84" fill="none" stroke="#52988f" stroke-opacity="1" stroke-width="5.0" stroke-linejoin="round" stroke-linecap="round"/>
<polyline points="1003.53,777.48 1003.53,778.6800000000001 986.03,778.6800000000001" fill="none" stroke="#52988f" stroke-opacity="1" stroke-width="5.0" stroke-linejoin="round" stroke-linecap="round"/>
<polyline points="1353.63,829.92 1598.7,829.92" fill="none" stroke="#52988f" stroke-opacity="1" stroke-width="5.0" stroke-linejoin="round" stroke-linecap="round"/>
<polyline points="1353.63,847.4 1598.7,847.4" fill="none" stroke="#52988f" stroke-opacity="1" stroke-width="5.0" stroke-linejoin="round" stroke-linecap="round"/>
<polyline points="1353.63,864.88 1598.7,864.88" fill="none" stroke="#52988f" stroke-opacity="1" stroke-width="5.0" stroke-linejoin="round" stroke-linecap="round"/>
<polyline points="1353.63,882.36 1598.7,882.36" fill="none" stroke="#52988f" stroke-opacity="1" stroke-width="5.0" stroke-linejoin="round" stroke-linecap="round"/>
<circle cx="845.99" cy="410.4" r="7" fill="#52988f"/>
<circle cx="1458.66" cy="323.0" r="7" fill="#52988f"/>
<circle cx="1493.67" cy="305.52" r="7" fill="#52988f"/>
<circle cx="1493.67" cy="637.64" r="7" fill="#52988f"/>
<circle cx="740.96" cy="899.84" r="7" fill="#52988f"/>
<circle cx="1021.04" cy="812.44" r="7" fill="#52988f"/>
<circle cx="1353.63" cy="847.4" r="7" fill="#52988f"/>
<circle cx="986.03" cy="778.6800000000001" r="7" fill="#52988f"/>
<rect x="881" y="340" width="26" height="13" fill="#7b93bd"/>
<rect x="881" y="607" width="110" height="13" fill="#7b93bd"/>
<rect x="583" y="377" width="22" height="12" fill="#7b93bd"/>
<rect x="1558" y="537" width="22" height="12" fill="#7b93bd"/>
<rect x="583" y="797" width="22" height="12" fill="#7b93bd"/>
<rect x="1528" y="797" width="22" height="12" fill="#7b93bd"/>
<rect x="1534" y="219" width="12" height="22" fill="#7b93bd"/>
<rect x="1061" y="709" width="12" height="22" fill="#7b93bd"/>
<rect x="889" y="921" width="65" height="13" fill="#7b93bd"/>
<rect x="1142" y="921" width="28" height="13" fill="#7b93bd"/>
</g>
<path d="M315 148V125H450" stroke="#7d7d7d" stroke-width="1.6" fill="none"/>
<path d="M316.3 147V126.6H449" stroke="#bdbdbd" stroke-width="1" fill="none"/>
<path d="M315.5 148.2H450.2V125.5" stroke="#fdfdfd" stroke-width="1" fill="none"/>
<text x="320.3" y="143" font-size="16.8" fill="#000" textLength="124.4" lengthAdjust="spacingAndGlyphs">0.1 inch (7.6 3.1)</text>
<path d="M452.6 148V125H464" stroke="#7d7d7d" stroke-width="1.6" fill="none"/>
<path d="M453.9 147V126.6H464" stroke="#bdbdbd" stroke-width="1" fill="none"/>
<rect x="466.5" y="125" width="1460" height="23.5" fill="#fff" stroke="#7a7a7a" stroke-width="1"/>
<path d="M466 124.6H1919" stroke="#7a7a7a" stroke-width="1.6"/>
<path d="M1905 134.2l5.4 5.4l5.4-5.4" stroke="#333" stroke-width="1.3" fill="none"/>
<g>
<rect x="881.0" y="357.96" width="332.6" height="244.72" fill="none" stroke="#80000a" stroke-opacity="0.70" stroke-width="1.9" stroke-linejoin="round"/>
<polyline points="1213.6,375.44 1248.61,375.44" fill="none" stroke="#80000a" stroke-opacity="0.70" stroke-width="1.8" stroke-linejoin="round" stroke-linecap="round"/>
<polyline points="1213.6,392.92 1248.61,392.92" fill="none" stroke="#80000a" stroke-opacity="0.70" stroke-width="1.8" stroke-linejoin="round" stroke-linecap="round"/>
<polyline points="1213.6,410.4 1248.61,410.4" fill="none" stroke="#80000a" stroke-opacity="0.70" stroke-width="1.8" stroke-linejoin="round" stroke-linecap="round"/>
<polyline points="1213.6,427.88 1248.61,427.88" fill="none" stroke="#80000a" stroke-opacity="0.70" stroke-width="1.8" stroke-linejoin="round" stroke-linecap="round"/>
<polyline points="1213.6,462.84 1248.61,462.84" fill="none" stroke="#80000a" stroke-opacity="0.70" stroke-width="1.8" stroke-linejoin="round" stroke-linecap="round"/>
<polyline points="1213.6,480.32 1248.61,480.32" fill="none" stroke="#80000a" stroke-opacity="0.70" stroke-width="1.8" stroke-linejoin="round" stroke-linecap="round"/>
<polyline points="1213.6,497.8 1248.61,497.8" fill="none" stroke="#80000a" stroke-opacity="0.70" stroke-width="1.8" stroke-linejoin="round" stroke-linecap="round"/>
<polyline points="1213.6,515.28 1248.61,515.28" fill="none" stroke="#80000a" stroke-opacity="0.70" stroke-width="1.8" stroke-linejoin="round" stroke-linecap="round"/>
<polyline points="1213.6,532.76 1248.61,532.76" fill="none" stroke="#80000a" stroke-opacity="0.70" stroke-width="1.8" stroke-linejoin="round" stroke-linecap="round"/>
<polyline points="1213.6,550.24 1248.61,550.24" fill="none" stroke="#80000a" stroke-opacity="0.70" stroke-width="1.8" stroke-linejoin="round" stroke-linecap="round"/>
<polyline points="1213.6,567.72 1248.61,567.72" fill="none" stroke="#80000a" stroke-opacity="0.70" stroke-width="1.8" stroke-linejoin="round" stroke-linecap="round"/>
<polyline points="1213.6,585.2 1248.61,585.2" fill="none" stroke="#80000a" stroke-opacity="0.70" stroke-width="1.8" stroke-linejoin="round" stroke-linecap="round"/>
<polyline points="845.99,497.8 881.0,497.8" fill="none" stroke="#80000a" stroke-opacity="0.70" stroke-width="1.8" stroke-linejoin="round" stroke-linecap="round"/>
<polyline points="845.99,585.2 881.0,585.2" fill="none" stroke="#80000a" stroke-opacity="0.70" stroke-width="1.8" stroke-linejoin="round" stroke-linecap="round"/>
<rect x="584.5" y="393.5" width="43.0" height="139.78" fill="none" stroke="#80000a" stroke-opacity="0.70" stroke-width="2.8" stroke-linejoin="round"/>
<polyline points="653.43,410.4 620.43,410.4" fill="none" stroke="#80000a" stroke-opacity="0.70" stroke-width="1.8" stroke-linejoin="round" stroke-linecap="round"/>
<line x1="618.93" y1="410.4" x2="608.93" y2="410.4" stroke="#80000a" stroke-opacity="0.70" stroke-width="4.2" stroke-linecap="round"/>
<polyline points="653.43,427.88 620.43,427.88" fill="none" stroke="#80000a" stroke-opacity="0.70" stroke-width="1.8" stroke-linejoin="round" stroke-linecap="round"/>
<line x1="618.93" y1="427.88" x2="608.93" y2="427.88" stroke="#80000a" stroke-opacity="0.70" stroke-width="4.2" stroke-linecap="round"/>
<polyline points="653.43,445.36 620.43,445.36" fill="none" stroke="#80000a" stroke-opacity="0.70" stroke-width="1.8" stroke-linejoin="round" stroke-linecap="round"/>
<line x1="618.93" y1="445.36" x2="608.93" y2="445.36" stroke="#80000a" stroke-opacity="0.70" stroke-width="4.2" stroke-linecap="round"/>
<polyline points="653.43,462.84 620.43,462.84" fill="none" stroke="#80000a" stroke-opacity="0.70" stroke-width="1.8" stroke-linejoin="round" stroke-linecap="round"/>
<line x1="618.93" y1="462.84" x2="608.93" y2="462.84" stroke="#80000a" stroke-opacity="0.70" stroke-width="4.2" stroke-linecap="round"/>
<polyline points="653.43,480.32 620.43,480.32" fill="none" stroke="#80000a" stroke-opacity="0.70" stroke-width="1.8" stroke-linejoin="round" stroke-linecap="round"/>
<line x1="618.93" y1="480.32" x2="608.93" y2="480.32" stroke="#80000a" stroke-opacity="0.70" stroke-width="4.2" stroke-linecap="round"/>
<polyline points="653.43,497.8 620.43,497.8" fill="none" stroke="#80000a" stroke-opacity="0.70" stroke-width="1.8" stroke-linejoin="round" stroke-linecap="round"/>
<line x1="618.93" y1="497.8" x2="608.93" y2="497.8" stroke="#80000a" stroke-opacity="0.70" stroke-width="4.2" stroke-linecap="round"/>
<polyline points="653.43,515.28 620.43,515.28" fill="none" stroke="#80000a" stroke-opacity="0.70" stroke-width="1.8" stroke-linejoin="round" stroke-linecap="round"/>
<line x1="618.93" y1="515.28" x2="608.93" y2="515.28" stroke="#80000a" stroke-opacity="0.70" stroke-width="4.2" stroke-linecap="round"/>
<rect x="1538.5" y="393.5" width="43.5" height="139.78" fill="none" stroke="#80000a" stroke-opacity="0.70" stroke-width="2.8" stroke-linejoin="round"/>
<polyline points="1511.18,410.4 1544.18,410.4" fill="none" stroke="#80000a" stroke-opacity="0.70" stroke-width="1.8" stroke-linejoin="round" stroke-linecap="round"/>
<line x1="1545.68" y1="410.4" x2="1555.68" y2="410.4" stroke="#80000a" stroke-opacity="0.70" stroke-width="4.2" stroke-linecap="round"/>
<polyline points="1511.18,427.88 1544.18,427.88" fill="none" stroke="#80000a" stroke-opacity="0.70" stroke-width="1.8" stroke-linejoin="round" stroke-linecap="round"/>
<line x1="1545.68" y1="427.88" x2="1555.68" y2="427.88" stroke="#80000a" stroke-opacity="0.70" stroke-width="4.2" stroke-linecap="round"/>
<polyline points="1511.18,445.36 1544.18,445.36" fill="none" stroke="#80000a" stroke-opacity="0.70" stroke-width="1.8" stroke-linejoin="round" stroke-linecap="round"/>
<line x1="1545.68" y1="445.36" x2="1555.68" y2="445.36" stroke="#80000a" stroke-opacity="0.70" stroke-width="4.2" stroke-linecap="round"/>
<polyline points="1511.18,462.84 1544.18,462.84" fill="none" stroke="#80000a" stroke-opacity="0.70" stroke-width="1.8" stroke-linejoin="round" stroke-linecap="round"/>
<line x1="1545.68" y1="462.84" x2="1555.68" y2="462.84" stroke="#80000a" stroke-opacity="0.70" stroke-width="4.2" stroke-linecap="round"/>
<polyline points="1511.18,480.32 1544.18,480.32" fill="none" stroke="#80000a" stroke-opacity="0.70" stroke-width="1.8" stroke-linejoin="round" stroke-linecap="round"/>
<line x1="1545.68" y1="480.32" x2="1555.68" y2="480.32" stroke="#80000a" stroke-opacity="0.70" stroke-width="4.2" stroke-linecap="round"/>
<polyline points="1511.18,497.8 1544.18,497.8" fill="none" stroke="#80000a" stroke-opacity="0.70" stroke-width="1.8" stroke-linejoin="round" stroke-linecap="round"/>
<line x1="1545.68" y1="497.8" x2="1555.68" y2="497.8" stroke="#80000a" stroke-opacity="0.70" stroke-width="4.2" stroke-linecap="round"/>
<polyline points="1511.18,515.28 1544.18,515.28" fill="none" stroke="#80000a" stroke-opacity="0.70" stroke-width="1.8" stroke-linejoin="round" stroke-linecap="round"/>
<line x1="1545.68" y1="515.28" x2="1555.68" y2="515.28" stroke="#80000a" stroke-opacity="0.70" stroke-width="4.2" stroke-linecap="round"/>
<rect x="584.5" y="813.02" width="43.0" height="87.34" fill="none" stroke="#80000a" stroke-opacity="0.70" stroke-width="2.8" stroke-linejoin="round"/>
<polyline points="653.43,829.92 620.43,829.92" fill="none" stroke="#80000a" stroke-opacity="0.70" stroke-width="1.8" stroke-linejoin="round" stroke-linecap="round"/>
<line x1="618.93" y1="829.92" x2="608.93" y2="829.92" stroke="#80000a" stroke-opacity="0.70" stroke-width="4.2" stroke-linecap="round"/>
<polyline points="653.43,847.4 620.43,847.4" fill="none" stroke="#80000a" stroke-opacity="0.70" stroke-width="1.8" stroke-linejoin="round" stroke-linecap="round"/>
<line x1="618.93" y1="847.4" x2="608.93" y2="847.4" stroke="#80000a" stroke-opacity="0.70" stroke-width="4.2" stroke-linecap="round"/>
<polyline points="653.43,864.88 620.43,864.88" fill="none" stroke="#80000a" stroke-opacity="0.70" stroke-width="1.8" stroke-linejoin="round" stroke-linecap="round"/>
<line x1="618.93" y1="864.88" x2="608.93" y2="864.88" stroke="#80000a" stroke-opacity="0.70" stroke-width="4.2" stroke-linecap="round"/>
<polyline points="653.43,882.36 620.43,882.36" fill="none" stroke="#80000a" stroke-opacity="0.70" stroke-width="1.8" stroke-linejoin="round" stroke-linecap="round"/>
<line x1="618.93" y1="882.36" x2="608.93" y2="882.36" stroke="#80000a" stroke-opacity="0.70" stroke-width="4.2" stroke-linecap="round"/>
<rect x="1529.3" y="813.02" width="44.4" height="87.34" fill="none" stroke="#80000a" stroke-opacity="0.70" stroke-width="2.8" stroke-linejoin="round"/>
<polyline points="1598.7,829.92 1565.7,829.92" fill="none" stroke="#80000a" stroke-opacity="0.70" stroke-width="1.8" stroke-linejoin="round" stroke-linecap="round"/>
<line x1="1564.2" y1="829.92" x2="1554.2" y2="829.92" stroke="#80000a" stroke-opacity="0.70" stroke-width="4.2" stroke-linecap="round"/>
<polyline points="1598.7,847.4 1565.7,847.4" fill="none" stroke="#80000a" stroke-opacity="0.70" stroke-width="1.8" stroke-linejoin="round" stroke-linecap="round"/>
<line x1="1564.2" y1="847.4" x2="1554.2" y2="847.4" stroke="#80000a" stroke-opacity="0.70" stroke-width="4.2" stroke-linecap="round"/>
<polyline points="1598.7,864.88 1565.7,864.88" fill="none" stroke="#80000a" stroke-opacity="0.70" stroke-width="1.8" stroke-linejoin="round" stroke-linecap="round"/>
<line x1="1564.2" y1="864.88" x2="1554.2" y2="864.88" stroke="#80000a" stroke-opacity="0.70" stroke-width="4.2" stroke-linecap="round"/>
<polyline points="1598.7,882.36 1565.7,882.36" fill="none" stroke="#80000a" stroke-opacity="0.70" stroke-width="1.8" stroke-linejoin="round" stroke-linecap="round"/>
<line x1="1564.2" y1="882.36" x2="1554.2" y2="882.36" stroke="#80000a" stroke-opacity="0.70" stroke-width="4.2" stroke-linecap="round"/>
<rect x="1441.0600000000002" y="218.54000000000002" width="88.12" height="43.5" fill="none" stroke="#80000a" stroke-opacity="0.70" stroke-width="2.8" stroke-linejoin="round"/>
<polyline points="1458.66,288.04 1458.66,255.04000000000002" fill="none" stroke="#80000a" stroke-opacity="0.70" stroke-width="1.8" stroke-linejoin="round" stroke-linecap="round"/>
<line x1="1458.66" y1="253.04000000000002" x2="1458.66" y2="244.04000000000002" stroke="#80000a" stroke-opacity="0.70" stroke-width="4.2" stroke-linecap="round"/>
<polyline points="1476.17,288.04 1476.17,255.04000000000002" fill="none" stroke="#80000a" stroke-opacity="0.70" stroke-width="1.8" stroke-linejoin="round" stroke-linecap="round"/>
<line x1="1476.17" y1="253.04000000000002" x2="1476.17" y2="244.04000000000002" stroke="#80000a" stroke-opacity="0.70" stroke-width="4.2" stroke-linecap="round"/>
<polyline points="1493.67,288.04 1493.67,255.04000000000002" fill="none" stroke="#80000a" stroke-opacity="0.70" stroke-width="1.8" stroke-linejoin="round" stroke-linecap="round"/>
<line x1="1493.67" y1="253.04000000000002" x2="1493.67" y2="244.04000000000002" stroke="#80000a" stroke-opacity="0.70" stroke-width="4.2" stroke-linecap="round"/>
<polyline points="1511.18,288.04 1511.18,255.04000000000002" fill="none" stroke="#80000a" stroke-opacity="0.70" stroke-width="1.8" stroke-linejoin="round" stroke-linecap="round"/>
<line x1="1511.18" y1="253.04000000000002" x2="1511.18" y2="244.04000000000002" stroke="#80000a" stroke-opacity="0.70" stroke-width="4.2" stroke-linecap="round"/>
<rect x="968.43" y="707.98" width="88.12" height="43.5" fill="none" stroke="#80000a" stroke-opacity="0.70" stroke-width="2.8" stroke-linejoin="round"/>
<polyline points="986.03,777.48 986.03,744.48" fill="none" stroke="#80000a" stroke-opacity="0.70" stroke-width="1.8" stroke-linejoin="round" stroke-linecap="round"/>
<line x1="986.03" y1="742.48" x2="986.03" y2="733.48" stroke="#80000a" stroke-opacity="0.70" stroke-width="4.2" stroke-linecap="round"/>
<polyline points="1003.53,777.48 1003.53,744.48" fill="none" stroke="#80000a" stroke-opacity="0.70" stroke-width="1.8" stroke-linejoin="round" stroke-linecap="round"/>
<line x1="1003.53" y1="742.48" x2="1003.53" y2="733.48" stroke="#80000a" stroke-opacity="0.70" stroke-width="4.2" stroke-linecap="round"/>
<polyline points="1021.04,777.48 1021.04,744.48" fill="none" stroke="#80000a" stroke-opacity="0.70" stroke-width="1.8" stroke-linejoin="round" stroke-linecap="round"/>
<line x1="1021.04" y1="742.48" x2="1021.04" y2="733.48" stroke="#80000a" stroke-opacity="0.70" stroke-width="4.2" stroke-linecap="round"/>
<polyline points="1038.55,777.48 1038.55,744.48" fill="none" stroke="#80000a" stroke-opacity="0.70" stroke-width="1.8" stroke-linejoin="round" stroke-linecap="round"/>
<line x1="1038.55" y1="742.48" x2="1038.55" y2="733.48" stroke="#80000a" stroke-opacity="0.70" stroke-width="4.2" stroke-linecap="round"/>
<rect x="749.71" y="831.7199999999999" width="595.17" height="85.92" fill="none" stroke="#80000a" stroke-opacity="0.70" stroke-width="2.8" stroke-linejoin="round"/>
<rect x="749.71" y="831.7199999999999" width="10.5" height="10" fill="#80000a" fill-opacity="0.70"/>
<polyline points="740.96,847.4 749.71,847.4" fill="none" stroke="#80000a" stroke-opacity="0.70" stroke-width="1.8" stroke-linejoin="round" stroke-linecap="round"/>
<polyline points="1344.88,847.4 1353.63,847.4" fill="none" stroke="#80000a" stroke-opacity="0.70" stroke-width="1.8" stroke-linejoin="round" stroke-linecap="round"/>
<polyline points="740.96,864.88 749.71,864.88" fill="none" stroke="#80000a" stroke-opacity="0.70" stroke-width="1.8" stroke-linejoin="round" stroke-linecap="round"/>
<polyline points="1344.88,864.88 1353.63,864.88" fill="none" stroke="#80000a" stroke-opacity="0.70" stroke-width="1.8" stroke-linejoin="round" stroke-linecap="round"/>
<polyline points="740.96,882.36 749.71,882.36" fill="none" stroke="#80000a" stroke-opacity="0.70" stroke-width="1.8" stroke-linejoin="round" stroke-linecap="round"/>
<polyline points="1344.88,882.36 1353.63,882.36" fill="none" stroke="#80000a" stroke-opacity="0.70" stroke-width="1.8" stroke-linejoin="round" stroke-linecap="round"/>
<polyline points="740.96,899.84 749.71,899.84" fill="none" stroke="#80000a" stroke-opacity="0.70" stroke-width="1.8" stroke-linejoin="round" stroke-linecap="round"/>
<polyline points="1344.88,899.84 1353.63,899.84" fill="none" stroke="#80000a" stroke-opacity="0.70" stroke-width="1.8" stroke-linejoin="round" stroke-linecap="round"/>
<polyline points="653.43,410.4 845.99,410.4" fill="none" stroke="#126a12" stroke-opacity="0.70" stroke-width="1.9" stroke-linejoin="round" stroke-linecap="round"/>
<polyline points="845.99,497.8 845.99,253.08 1423.65,253.08 1423.65,340.48 1458.66,340.48 1458.66,288.04" fill="none" stroke="#126a12" stroke-opacity="0.70" stroke-width="1.9" stroke-linejoin="round" stroke-linecap="round"/>
<polyline points="1476.17,288.04 1476.17,323.0 1458.66,323.0" fill="none" stroke="#126a12" stroke-opacity="0.70" stroke-width="1.9" stroke-linejoin="round" stroke-linecap="round"/>
<polyline points="1511.18,288.04 1511.18,305.52 1493.67,305.52" fill="none" stroke="#126a12" stroke-opacity="0.70" stroke-width="1.9" stroke-linejoin="round" stroke-linecap="round"/>
<polyline points="1493.67,288.04 1493.67,637.64" fill="none" stroke="#126a12" stroke-opacity="0.70" stroke-width="1.9" stroke-linejoin="round" stroke-linecap="round"/>
<polyline points="845.99,585.2 845.99,637.64 1511.18,637.64 1511.18,515.28" fill="none" stroke="#126a12" stroke-opacity="0.70" stroke-width="1.9" stroke-linejoin="round" stroke-linecap="round"/>
<polyline points="653.43,427.88 1248.61,427.88" fill="none" stroke="#126a12" stroke-opacity="0.70" stroke-width="1.9" stroke-linejoin="round" stroke-linecap="round"/>
<polyline points="653.43,445.36 1248.61,445.36 1248.61,410.4" fill="none" stroke="#126a12" stroke-opacity="0.70" stroke-width="1.9" stroke-linejoin="round" stroke-linecap="round"/>
<polyline points="653.43,462.84 1143.58,462.84 1143.58,305.52 1248.61,305.52 1248.61,375.44" fill="none" stroke="#126a12" stroke-opacity="0.70" stroke-width="1.9" stroke-linejoin="round" stroke-linecap="round"/>
<polyline points="653.43,480.32 1108.57,480.32 1108.57,270.56 1283.62,270.56 1283.62,392.92 1248.61,392.92" fill="none" stroke="#126a12" stroke-opacity="0.70" stroke-width="1.9" stroke-linejoin="round" stroke-linecap="round"/>
<polyline points="653.43,497.8 810.98,497.8 810.98,218.12 1301.12,218.12 1301.12,462.84 1248.61,462.84" fill="none" stroke="#126a12" stroke-opacity="0.70" stroke-width="1.9" stroke-linejoin="round" stroke-linecap="round"/>
<polyline points="653.43,515.28 758.47,515.28 758.47,165.68 1353.63,165.68 1353.63,480.32 1248.61,480.32" fill="none" stroke="#126a12" stroke-opacity="0.70" stroke-width="1.9" stroke-linejoin="round" stroke-linecap="round"/>
<polyline points="1248.61,497.8 1371.14,497.8 1371.14,410.4 1511.18,410.4" fill="none" stroke="#126a12" stroke-opacity="0.70" stroke-width="1.9" stroke-linejoin="round" stroke-linecap="round"/>
<polyline points="1248.61,515.28 1388.64,515.28 1388.64,427.88 1511.18,427.88" fill="none" stroke="#126a12" stroke-opacity="0.70" stroke-width="1.9" stroke-linejoin="round" stroke-linecap="round"/>
<polyline points="1248.61,532.76 1406.15,532.76 1406.15,445.36 1511.18,445.36" fill="none" stroke="#126a12" stroke-opacity="0.70" stroke-width="1.9" stroke-linejoin="round" stroke-linecap="round"/>
<polyline points="1248.61,550.24 1423.65,550.24 1423.65,462.84 1511.18,462.84" fill="none" stroke="#126a12" stroke-opacity="0.70" stroke-width="1.9" stroke-linejoin="round" stroke-linecap="round"/>
<polyline points="1248.61,567.72 1441.16,567.72 1441.16,480.32 1511.18,480.32" fill="none" stroke="#126a12" stroke-opacity="0.70" stroke-width="1.9" stroke-linejoin="round" stroke-linecap="round"/>
<polyline points="1248.61,585.2 1458.66,585.2 1458.66,497.8 1511.18,497.8" fill="none" stroke="#126a12" stroke-opacity="0.70" stroke-width="1.9" stroke-linejoin="round" stroke-linecap="round"/>
<polyline points="653.43,829.92 740.96,829.92" fill="none" stroke="#126a12" stroke-opacity="0.70" stroke-width="1.9" stroke-linejoin="round" stroke-linecap="round"/>
<polyline points="653.43,847.4 749.71,847.4" fill="none" stroke="#126a12" stroke-opacity="0.70" stroke-width="1.9" stroke-linejoin="round" stroke-linecap="round"/>
<polyline points="653.43,864.88 749.71,864.88" fill="none" stroke="#126a12" stroke-opacity="0.70" stroke-width="1.9" stroke-linejoin="round" stroke-linecap="round"/>
<polyline points="653.43,882.36 749.71,882.36" fill="none" stroke="#126a12" stroke-opacity="0.70" stroke-width="1.9" stroke-linejoin="round" stroke-linecap="round"/>
<polyline points="740.96,899.84 740.96,777.48 810.98,777.48 810.98,812.44 1038.55,812.44 1038.55,777.48" fill="none" stroke="#126a12" stroke-opacity="0.70" stroke-width="1.9" stroke-linejoin="round" stroke-linecap="round"/>
<polyline points="1021.04,777.48 1021.04,812.44" fill="none" stroke="#126a12" stroke-opacity="0.70" stroke-width="1.9" stroke-linejoin="round" stroke-linecap="round"/>
<polyline points="986.03,777.48 986.03,794.96 1353.63,794.96 1353.63,899.84" fill="none" stroke="#126a12" stroke-opacity="0.70" stroke-width="1.9" stroke-linejoin="round" stroke-linecap="round"/>
<polyline points="1003.53,777.48 1003.53,778.6800000000001 986.03,778.6800000000001" fill="none" stroke="#126a12" stroke-opacity="0.70" stroke-width="1.9" stroke-linejoin="round" stroke-linecap="round"/>
<polyline points="1353.63,829.92 1598.7,829.92" fill="none" stroke="#126a12" stroke-opacity="0.70" stroke-width="1.9" stroke-linejoin="round" stroke-linecap="round"/>
<polyline points="1353.63,847.4 1598.7,847.4" fill="none" stroke="#126a12" stroke-opacity="0.70" stroke-width="1.9" stroke-linejoin="round" stroke-linecap="round"/>
<polyline points="1353.63,864.88 1598.7,864.88" fill="none" stroke="#126a12" stroke-opacity="0.70" stroke-width="1.9" stroke-linejoin="round" stroke-linecap="round"/>
<polyline points="1353.63,882.36 1598.7,882.36" fill="none" stroke="#126a12" stroke-opacity="0.70" stroke-width="1.9" stroke-linejoin="round" stroke-linecap="round"/>
<circle cx="845.99" cy="410.4" r="3.9" fill="#40a640"/>
<circle cx="1458.66" cy="323.0" r="3.9" fill="#40a640"/>
<circle cx="1493.67" cy="305.52" r="3.9" fill="#40a640"/>
<circle cx="1493.67" cy="637.64" r="3.9" fill="#40a640"/>
<circle cx="740.96" cy="899.84" r="3.9" fill="#40a640"/>
<circle cx="1021.04" cy="812.44" r="3.9" fill="#40a640"/>
<circle cx="1353.63" cy="847.4" r="3.9" fill="#40a640"/>
<circle cx="986.03" cy="778.6800000000001" r="3.9" fill="#40a640"/>
<text x="1034.6" y="380.0" font-size="14.3" fill="#808080" textLength="161.7" lengthAdjust="spacingAndGlyphs">(PCINT11/RESET/DW)PB3</text>
<text x="986.7" y="397.5" font-size="14.3" fill="#808080" textLength="209.6" lengthAdjust="spacingAndGlyphs">(PCINT10/INT0/OC0A/CKOUT)PB2</text>
<text x="1073.9" y="415.0" font-size="14.3" fill="#808080" textLength="122.4" lengthAdjust="spacingAndGlyphs">(PCINT9/XTAL2)PB1</text>
<text x="1041.0" y="432.5" font-size="14.3" fill="#808080" textLength="155.3" lengthAdjust="spacingAndGlyphs">(PCINT8/XTAL1/CLKI)PB0</text>
<text x="1011.8" y="467.4" font-size="14.3" fill="#808080" textLength="184.5" lengthAdjust="spacingAndGlyphs">(PCINT7/ICP/OC0B/ADC7)PA7</text>
<text x="970.0" y="484.9" font-size="14.3" fill="#808080" textLength="226.3" lengthAdjust="spacingAndGlyphs">(PCINT6/OC1A/SDA/MOSI/ADC6)PA6</text>
<text x="975.9" y="502.4" font-size="14.3" fill="#808080" textLength="220.4" lengthAdjust="spacingAndGlyphs">(PCINT5/OC1B/MISO/DO/ADC5)PA5</text>
<text x="988.6" y="519.9" font-size="14.3" fill="#808080" textLength="207.7" lengthAdjust="spacingAndGlyphs">(PCINT4/T1/SCL/USCK/ADC4)PA4</text>
<text x="1056.6" y="537.4" font-size="14.3" fill="#808080" textLength="139.7" lengthAdjust="spacingAndGlyphs">(PCINT3/T0/ADC3)PA3</text>
<text x="1043.7" y="554.8" font-size="14.3" fill="#808080" textLength="152.6" lengthAdjust="spacingAndGlyphs">(PCINT2/AIN1/ADC2)PA2</text>
<text x="1043.7" y="572.3" font-size="14.3" fill="#808080" textLength="152.6" lengthAdjust="spacingAndGlyphs">(PCINT1/AIN0/ADC1)PA1</text>
<text x="1040.7" y="589.8" font-size="14.3" fill="#808080" textLength="155.6" lengthAdjust="spacingAndGlyphs">(PCINT0/AREF/ADC0)PA0</text>
<text x="1228.8" y="372.2" font-size="12.6" fill="#808080" textLength="7.6" lengthAdjust="spacingAndGlyphs">4</text>
<text x="1228.8" y="389.7" font-size="12.6" fill="#808080" textLength="7.6" lengthAdjust="spacingAndGlyphs">5</text>
<text x="1228.8" y="407.2" font-size="12.6" fill="#808080" textLength="7.6" lengthAdjust="spacingAndGlyphs">3</text>
<text x="1228.8" y="424.7" font-size="12.6" fill="#808080" textLength="7.6" lengthAdjust="spacingAndGlyphs">2</text>
<text x="1228.8" y="459.6" font-size="12.6" fill="#808080" textLength="7.6" lengthAdjust="spacingAndGlyphs">6</text>
<text x="1228.8" y="477.1" font-size="12.6" fill="#808080" textLength="7.6" lengthAdjust="spacingAndGlyphs">7</text>
<text x="1228.8" y="494.6" font-size="12.6" fill="#808080" textLength="7.6" lengthAdjust="spacingAndGlyphs">8</text>
<text x="1228.8" y="512.1" font-size="12.6" fill="#808080" textLength="7.6" lengthAdjust="spacingAndGlyphs">9</text>
<text x="1228.8" y="529.6" font-size="12.6" fill="#808080" textLength="15.0" lengthAdjust="spacingAndGlyphs">10</text>
<text x="1228.8" y="547.0" font-size="12.6" fill="#808080" textLength="15.0" lengthAdjust="spacingAndGlyphs">11</text>
<text x="1228.8" y="564.5" font-size="12.6" fill="#808080" textLength="15.0" lengthAdjust="spacingAndGlyphs">12</text>
<text x="1228.8" y="582.0" font-size="12.6" fill="#808080" textLength="15.0" lengthAdjust="spacingAndGlyphs">13</text>
<text x="864.8" y="494.6" font-size="12.6" fill="#808080" text-anchor="end">1</text>
<text x="864.8" y="582.0" font-size="12.6" fill="#808080" textLength="14.2" lengthAdjust="spacingAndGlyphs" text-anchor="end">14</text>
<text x="896.7" y="502.5" font-size="14.3" fill="#808080" textLength="25.3" lengthAdjust="spacingAndGlyphs">VCC</text>
<text x="896.7" y="589.9" font-size="14.3" fill="#808080" textLength="27" lengthAdjust="spacingAndGlyphs">GND</text>
<text x="882.0" y="353.0" font-size="17.6" fill="#808080" textLength="22.4" lengthAdjust="spacingAndGlyphs" style="font-family:'Liberation Serif',serif">IC1</text>
<text x="881.3" y="620.0" font-size="16.8" fill="#808080" textLength="110.1" lengthAdjust="spacingAndGlyphs">ATTINY44-SSU</text>
<path d="M895.0 480.32h7M898.5 476.82v7" stroke="#8a8a8a" stroke-width="1" fill="none"/>
<text x="583.2" y="389.6" font-size="16.6" fill="#808080" textLength="21" lengthAdjust="spacingAndGlyphs" stroke="#808080" stroke-width="0.3">J4</text>
<text x="1558.2" y="548.2" font-size="16.6" fill="#808080" textLength="21" lengthAdjust="spacingAndGlyphs" stroke="#808080" stroke-width="0.3">J3</text>
<text x="583.2" y="809.6" font-size="16.6" fill="#808080" textLength="21.3" lengthAdjust="spacingAndGlyphs" stroke="#808080" stroke-width="0.3">J2</text>
<text x="1528.0" y="809.6" font-size="16.6" fill="#808080" textLength="20.5" lengthAdjust="spacingAndGlyphs" stroke="#808080" stroke-width="0.3">J1</text>
<text x="1544.6" y="240.5" font-size="16.6" fill="#808080" textLength="21" lengthAdjust="spacingAndGlyphs" transform="rotate(-90 1544.6 240.5)" stroke="#808080" stroke-width="0.3">J7</text>
<text x="1073.2" y="731.5" font-size="16.6" fill="#808080" textLength="21" lengthAdjust="spacingAndGlyphs" transform="rotate(-90 1073.2 731.5)" stroke="#808080" stroke-width="0.3">J6</text>
<text x="638.0" y="407.8" font-size="12.6" fill="#808080" text-anchor="middle">7</text>
<text x="1526.4" y="407.8" font-size="12.6" fill="#808080" text-anchor="middle">1</text>
<text x="638.0" y="425.3" font-size="12.6" fill="#808080" text-anchor="middle">6</text>
<text x="1526.4" y="425.3" font-size="12.6" fill="#808080" text-anchor="middle">2</text>
<text x="638.0" y="442.8" font-size="12.6" fill="#808080" text-anchor="middle">5</text>
<text x="1526.4" y="442.8" font-size="12.6" fill="#808080" text-anchor="middle">3</text>
<text x="638.0" y="460.2" font-size="12.6" fill="#808080" text-anchor="middle">4</text>
<text x="1526.4" y="460.2" font-size="12.6" fill="#808080" text-anchor="middle">4</text>
<text x="638.0" y="477.7" font-size="12.6" fill="#808080" text-anchor="middle">3</text>
<text x="1526.4" y="477.7" font-size="12.6" fill="#808080" text-anchor="middle">5</text>
<text x="638.0" y="495.2" font-size="12.6" fill="#808080" text-anchor="middle">2</text>
<text x="1526.4" y="495.2" font-size="12.6" fill="#808080" text-anchor="middle">6</text>
<text x="638.0" y="512.7" font-size="12.6" fill="#808080" text-anchor="middle">1</text>
<text x="1526.4" y="512.7" font-size="12.6" fill="#808080" text-anchor="middle">7</text>
<text x="637.6" y="827.3" font-size="12.6" fill="#808080" text-anchor="middle">4</text>
<text x="1583.4" y="827.3" font-size="12.6" fill="#808080" text-anchor="middle">4</text>
<text x="637.6" y="844.8" font-size="12.6" fill="#808080" text-anchor="middle">3</text>
<text x="1583.4" y="844.8" font-size="12.6" fill="#808080" text-anchor="middle">3</text>
<text x="637.6" y="862.3" font-size="12.6" fill="#808080" text-anchor="middle">2</text>
<text x="1583.4" y="862.3" font-size="12.6" fill="#808080" text-anchor="middle">2</text>
<text x="637.6" y="879.8" font-size="12.6" fill="#808080" text-anchor="middle">1</text>
<text x="1583.4" y="879.8" font-size="12.6" fill="#808080" text-anchor="middle">1</text>
<text x="1456.1" y="272.5" font-size="12.6" fill="#808080" text-anchor="middle" transform="rotate(-90 1456.1 272.5)">1</text>
<text x="1473.6" y="272.5" font-size="12.6" fill="#808080" text-anchor="middle" transform="rotate(-90 1473.6 272.5)">2</text>
<text x="1491.1" y="272.5" font-size="12.6" fill="#808080" text-anchor="middle" transform="rotate(-90 1491.1 272.5)">3</text>
<text x="1508.6" y="272.5" font-size="12.6" fill="#808080" text-anchor="middle" transform="rotate(-90 1508.6 272.5)">4</text>
<text x="983.4" y="763.0" font-size="12.6" fill="#808080" text-anchor="middle" transform="rotate(-90 983.4 763.0)">1</text>
<text x="1000.9" y="763.0" font-size="12.6" fill="#808080" text-anchor="middle" transform="rotate(-90 1000.9 763.0)">2</text>
<text x="1018.4" y="763.0" font-size="12.6" fill="#808080" text-anchor="middle" transform="rotate(-90 1018.4 763.0)">3</text>
<text x="1036.0" y="763.0" font-size="12.6" fill="#808080" text-anchor="middle" transform="rotate(-90 1036.0 763.0)">4</text>
<text x="756.3" y="852.6" font-size="14.3" fill="#808080" textLength="194.3" lengthAdjust="spacingAndGlyphs">PB5/PCINT5/-RESET/ADC0/DW</text>
<text x="756.3" y="870.1" font-size="14.3" fill="#808080" textLength="236.8" lengthAdjust="spacingAndGlyphs">PB3/PCINT3/XTAL1/CLKI/-OC1B/ADC3</text>
<text x="756.3" y="887.6" font-size="14.3" fill="#808080" textLength="237.5" lengthAdjust="spacingAndGlyphs">PB4/PCINT4/XTAL2/CLKO/OC1B/ADC2</text>
<text x="756.3" y="905.0" font-size="14.3" fill="#808080" textLength="27.5" lengthAdjust="spacingAndGlyphs">GND</text>
<text x="1310.8" y="852.6" font-size="14.3" fill="#808080" textLength="25.4" lengthAdjust="spacingAndGlyphs">VCC</text>
<text x="1068.3" y="870.1" font-size="14.3" fill="#808080" textLength="267.9" lengthAdjust="spacingAndGlyphs">SCK/USCK/SCL/ADC1/T0/INT0/PCINT2/PB2</text>
<text x="1085.0" y="887.6" font-size="14.3" fill="#808080" textLength="251.2" lengthAdjust="spacingAndGlyphs">MISO/DO/AIN1/OC0B/OC1A/PCINT1/PB1</text>
<text x="1018.3" y="905.0" font-size="14.3" fill="#808080" textLength="317.9" lengthAdjust="spacingAndGlyphs">MOSI/DI/SDA/AIN0/OC0A/-OC1A/AREF/PCINT0/PB0</text>
<text x="737.6" y="844.6" font-size="12.6" fill="#808080" text-anchor="end">1</text>
<text x="1355.8" y="844.6" font-size="12.6" fill="#808080">8</text>
<text x="737.6" y="862.1" font-size="12.6" fill="#808080" text-anchor="end">2</text>
<text x="1355.8" y="862.1" font-size="12.6" fill="#808080">7</text>
<text x="737.6" y="879.6" font-size="12.6" fill="#808080" text-anchor="end">3</text>
<text x="1355.8" y="879.6" font-size="12.6" fill="#808080">6</text>
<text x="737.6" y="897.0" font-size="12.6" fill="#808080" text-anchor="end">4</text>
<text x="1355.8" y="897.0" font-size="12.6" fill="#808080">5</text>
<text x="889.4" y="934.9" font-size="16.0" fill="#808080" textLength="64.9" lengthAdjust="spacingAndGlyphs" stroke="#808080" stroke-width="0.2">ATtiny45</text>
<text x="1142.6" y="934.9" font-size="16.0" fill="#808080" textLength="27.4" lengthAdjust="spacingAndGlyphs" stroke="#808080" stroke-width="0.1">U$1</text>
<path d="M1106 882.4h7M1109.5 878.9v7" stroke="#8a3038" stroke-width="1" fill="none"/>
<path d="M1546.9 442.36v7" stroke="#7a2a30" stroke-width="1" fill="none"/>
<path d="M619.5 477.32v7" stroke="#7a2a30" stroke-width="1" fill="none"/>
<path d="M619.5 861.88v6" stroke="#7a2a30" stroke-width="1" fill="none"/>
<path d="M1563.5 861.88v6" stroke="#7a2a30" stroke-width="1" fill="none"/>
</g>
<path d="M557 865.5H576" stroke="#222" stroke-width="1" stroke-dasharray="1 1" fill="none"/>
<path d="M566.5 855.5V875.5" stroke="#222" stroke-width="1" stroke-dasharray="1 1" fill="none"/>
<path d="M1902.3 166.3l5.2-5.2l5.2 5.2" stroke="#c3c3c3" stroke-width="2.2" fill="none"/>
<path d="M1902.3 940.8l5.2 5.2l5.2-5.2" stroke="#c3c3c3" stroke-width="2.2" fill="none"/>
<path d="M329.4 964.3l-5.2 5.2l5.2 5.2" stroke="#c3c3c3" stroke-width="2.2" fill="none"/>
<path d="M1877.8 964.3l5.2 5.2l-5.2 5.2" stroke="#c3c3c3" stroke-width="2.2" fill="none"/>
<path d="M18.7 996.8l4.800 5.600l-4.800 5.600l-4.800-5.600z" fill="#000"/>
<text x="29.5" y="1008.4" font-size="17.2" fill="#000" textLength="118.5" lengthAdjust="spacingAndGlyphs">Left-click&amp;drag</text>
<text x="154.25" y="1008.4" font-size="17.2" fill="#000" textLength="15.8" lengthAdjust="spacingAndGlyphs">to</text>
<text x="176.25" y="1008.4" font-size="17.2" fill="#000" textLength="48.0" lengthAdjust="spacingAndGlyphs">define</text>
<text x="230.5" y="1008.4" font-size="17.2" fill="#000" textLength="47.5" lengthAdjust="spacingAndGlyphs">group</text>
<text x="285" y="1008.4" font-size="17.2" fill="#000" textLength="20.5" lengthAdjust="spacingAndGlyphs">(or</text>
<text x="311.75" y="1008.4" font-size="17.2" fill="#000" textLength="63.2" lengthAdjust="spacingAndGlyphs">left-click</text>
<text x="381.75" y="1008.4" font-size="17.2" fill="#000" textLength="15.8" lengthAdjust="spacingAndGlyphs">to</text>
<text x="403.75" y="1008.4" font-size="17.2" fill="#000" textLength="33.2" lengthAdjust="spacingAndGlyphs">start</text>
<text x="443.75" y="1008.4" font-size="17.2" fill="#000" textLength="63.2" lengthAdjust="spacingAndGlyphs">defining</text>
<text x="513.75" y="1008.4" font-size="17.2" fill="#000" textLength="8.0" lengthAdjust="spacingAndGlyphs">a</text>
<text x="527.5" y="1008.4" font-size="17.2" fill="#000" textLength="47.5" lengthAdjust="spacingAndGlyphs">group</text>
<text x="581.75" y="1008.4" font-size="17.2" fill="#000" textLength="70.8" lengthAdjust="spacingAndGlyphs">polygon)</text>
<path d="M1876.6 985V1012M1898.7 985V1012" stroke="#d0d0d0" stroke-width="1"/>
<path d="M1892 993.200l-8.800 10.200h5.600l-2.600 8.200l9.400-11.200h-5.800z" fill="#6cb52d"/>
<path d="M1894.3 327.5V350.6L1899.6 346.3L1903.2 353.8L1907.3 352.1L1904.3 345.3H1911.6Z" fill="#fff" stroke="#111" stroke-width="1.2" stroke-linejoin="miter"/>
</svg>
</body></html>
